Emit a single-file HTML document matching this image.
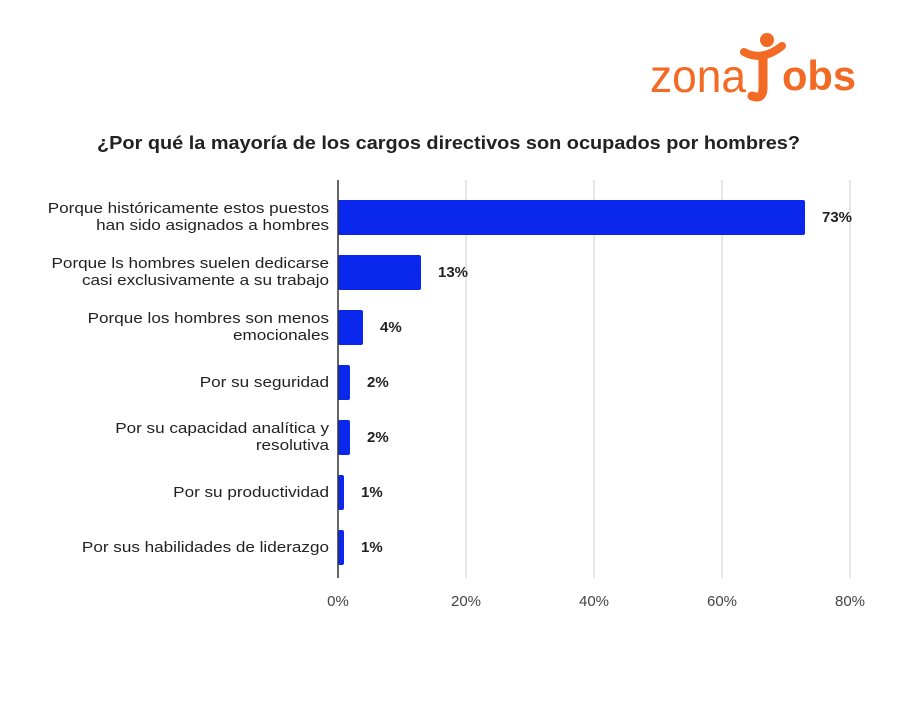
<!DOCTYPE html>
<html><head><meta charset="utf-8"><style>
body{margin:0;background:#fff;width:900px;height:700px;overflow:hidden;font-family:"Liberation Sans",sans-serif}
</style></head><body>
<svg width="900" height="700" xmlns="http://www.w3.org/2000/svg" font-family="Liberation Sans, sans-serif">
<rect width="900" height="700" fill="#fff"/>
<g font-size="46" fill="#f26a24" font-family="Liberation Sans, sans-serif">
<text x="650" y="92" textLength="96" lengthAdjust="spacingAndGlyphs">zona</text>
<text x="782" y="90" font-weight="bold" font-size="42" textLength="74" lengthAdjust="spacingAndGlyphs">obs</text>
</g>
<g fill="none" stroke="#f26a24" stroke-linecap="round">
<path d="M744 52 Q762 62 782 46" stroke-width="8"/>
<path d="M763 58 L763 88 Q763 100 752 96" stroke-width="9"/>
</g>
<circle cx="767" cy="40" r="7" fill="#f26a24"/>
<text x="97" y="149" textLength="703" lengthAdjust="spacingAndGlyphs" font-size="18" font-weight="bold" fill="#222">¿Por qué la mayoría de los cargos directivos son ocupados por hombres?</text>
<g stroke="#ccc" stroke-width="1">
<line x1="466" y1="180" x2="466" y2="578"/>
<line x1="594" y1="180" x2="594" y2="578"/>
<line x1="722" y1="180" x2="722" y2="578"/>
<line x1="850" y1="180" x2="850" y2="578"/>
</g>
<g fill="#0a27ee">
<rect x="338" y="200" width="467" height="35" rx="2"/>
<rect x="338" y="255" width="83" height="35" rx="2"/>
<rect x="338" y="310" width="25" height="35" rx="2"/>
<rect x="338" y="365" width="12" height="35" rx="2"/>
<rect x="338" y="420" width="12" height="35" rx="2"/>
<rect x="338" y="475" width="6" height="35" rx="2"/>
<rect x="338" y="530" width="6" height="35" rx="2"/>
</g>
<line x1="338" y1="180" x2="338" y2="578" stroke="#333" stroke-width="1.5"/>
<g font-size="15" font-weight="bold" fill="#222">
<text x="822" y="222">73%</text>
<text x="438" y="277">13%</text>
<text x="380" y="332">4%</text>
<text x="367" y="387">2%</text>
<text x="367" y="442">2%</text>
<text x="361" y="497">1%</text>
<text x="361" y="552">1%</text>
</g>
<g font-size="14.5" fill="#222" text-anchor="end" transform="translate(329,0) scale(1.18,1) translate(-329,0)">
<text x="329" y="213">Porque históricamente estos puestos</text>
<text x="329" y="230">han sido asignados a hombres</text>
<text x="329" y="268">Porque ls hombres suelen dedicarse</text>
<text x="329" y="285">casi exclusivamente a su trabajo</text>
<text x="329" y="323">Porque los hombres son menos</text>
<text x="329" y="340">emocionales</text>
<text x="329" y="387">Por su seguridad</text>
<text x="329" y="433">Por su capacidad analítica y</text>
<text x="329" y="450">resolutiva</text>
<text x="329" y="497">Por su productividad</text>
<text x="329" y="552">Por sus habilidades de liderazgo</text>
</g>
<g font-size="15" fill="#444" text-anchor="middle">
<text x="338" y="606">0%</text>
<text x="466" y="606">20%</text>
<text x="594" y="606">40%</text>
<text x="722" y="606">60%</text>
<text x="850" y="606">80%</text>
</g>
</svg>
</body></html>
